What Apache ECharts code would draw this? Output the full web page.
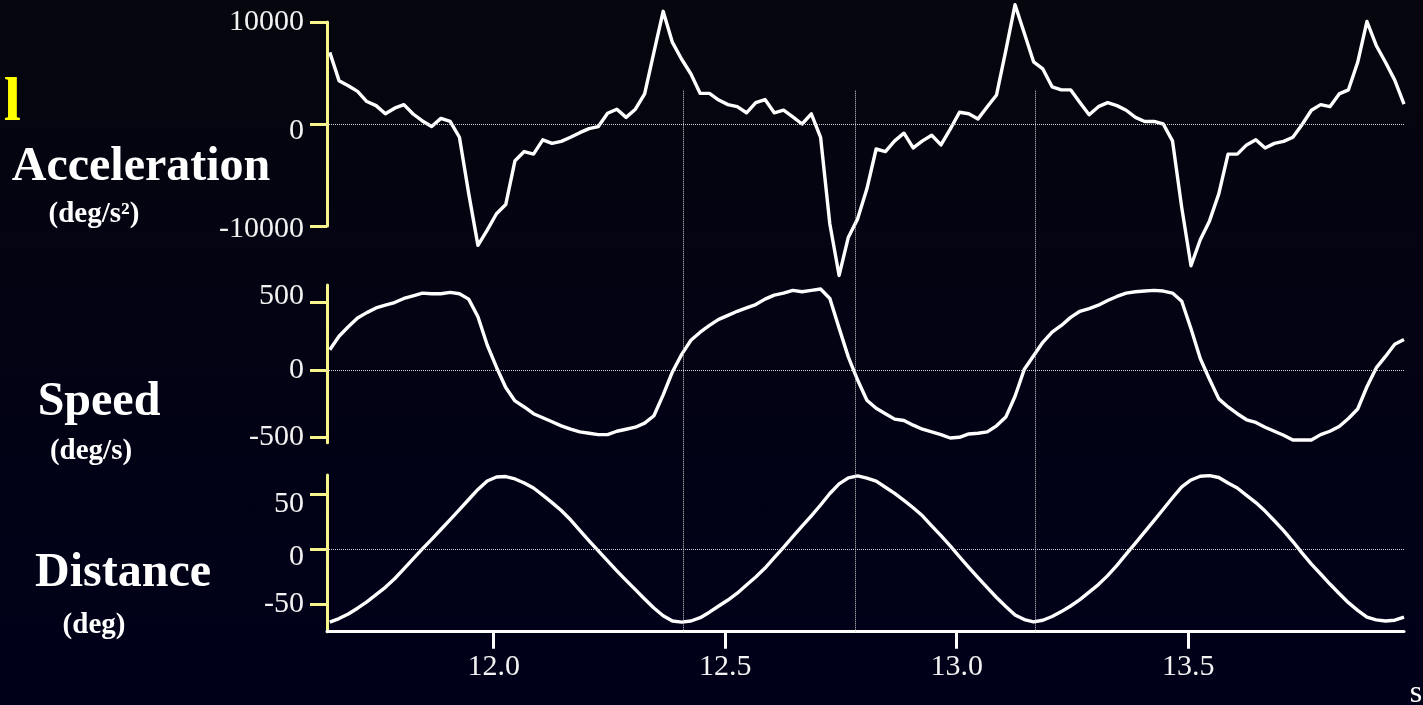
<!DOCTYPE html>
<html>
<head>
<meta charset="utf-8">
<script src="https://cdn.jsdelivr.net/npm/echarts@6/dist/echarts.min.js"></script>
<style>
  html, body { margin: 0; padding: 0; width: 1423px; height: 705px; overflow: hidden;
    background: linear-gradient(#06060e, #00001a); }
  #chart { width: 1423px; height: 705px; }
</style>
</head>
<body>
<div id="chart"></div>
<script>
// Sampling clock of the recording (seconds)
const SAMPLE_T0 = 11.646;
const SAMPLE_DT = 0.02;

// Angular acceleration, deg/s^2
const acceleration = [
  7020, 4250, 3750, 3200, 2200, 1800, 1000, 1550, 1900, 980,
  300, -250, 550, 250, -1300, -6800, -11900, -10400, -8800, -7900,
  -3600, -2700, -2950, -1550, -1900, -1700, -1300, -850, -450, -250,
  1050, 1450, 650, 1450, 2950, 7020, 11050, 8000, 6350, 4900,
  3000, 3000, 2350, 1900, 1700, 1100, 2100, 2400, 1100, 1350,
  700, 0, 1000, -1300, -9800, -14850, -11100, -9300, -6350, -2450,
  -2700, -1650, -900, -2350, -1650, -1100, -2050, -500, 1150, 1000,
  500, 1700, 2850, 7200, 11700, 8900, 6100, 5400, 3650, 3350,
  3350, 2100, 900, 1700, 2100, 1800, 1350, 650, 250, 250,
  0, -1650, -8200, -13900, -11350, -9500, -6850, -2950, -2950, -2050,
  -1550, -2350, -1900, -1700, -1300, -50, 1350, 1900, 1700, 2950,
  3350, 6050, 10050, 7700, 6050, 4300, 1950
];

// Angular speed, deg/s
const speed = [
  150, 250, 320, 385, 425, 460, 480, 500, 530, 550,
  570, 565, 565, 575, 565, 525, 395, 185, 20, -130,
  -230, -275, -325, -355, -385, -415, -440, -460, -470, -480,
  -480, -455, -440, -425, -395, -340, -185, -15, 115, 220,
  280, 330, 375, 405, 435, 460, 485, 525, 555, 570,
  590, 580, 590, 600, 530, 310, 95, -75, -225, -285,
  -325, -365, -375, -410, -440, -460, -480, -505, -500, -475,
  -470, -460, -415, -350, -195, 5, 105, 205, 280, 330,
  390, 435, 455, 480, 515, 545, 570, 580, 585, 590,
  585, 570, 510, 305, 85, -70, -215, -275, -325, -370,
  -390, -425, -455, -485, -520, -520, -520, -480, -455, -420,
  -360, -290, -125, 15, 100, 190, 225
];

// Angular distance, deg
const distance = [
  -66.3, -63.1, -59.0, -53.7, -47.9, -41.4, -34.8, -27.0, -18.0, -9.0,
  0, 8.7, 17.6, 26.6, 35.6, 44.8, 53.9, 61.6, 65.2, 65.6,
  63.4, 59.8, 55.2, 48.8, 42.0, 34.8, 26.4, 16.9, 7.4, -1.8,
  -10.8, -19.8, -28.5, -36.9, -45.4, -53.5, -60.5, -65.3, -66.3, -65.3,
  -62.3, -57.3, -51.7, -46.3, -40.1, -32.7, -25.5, -17.3, -7.9, 1.5,
  11.1, 20.6, 30.0, 39.8, 50.2, 58.9, 64.4, 66.2, 64.2, 61.4,
  55.9, 50.4, 44.0, 37.3, 30.0, 20.9, 12.1, 2.8, -7.1, -16.7,
  -26.0, -35.0, -44.0, -52.2, -59.9, -64.0, -66.1, -64.6, -61.2, -56.8,
  -51.7, -45.9, -39.1, -32.3, -24.2, -14.9, -4.7, 5.2, 15.5, 25.7,
  36.0, 46.4, 56.3, 62.5, 65.9, 66.4, 64.7, 59.7, 55.2, 48.6,
  42.0, 34.3, 25.5, 16.6, 6.7, -3.8, -13.8, -22.7, -31.8, -40.4,
  -48.7, -55.7, -61.8, -64.3, -65.3, -64.6, -61.8
];

// Axis ticks and reference instants (turning points of the movement)
const timeTicks = [12.0, 12.5, 13.0, 13.5];
const accTicks = [-10000, 0, 10000];
const speedTicks = [-500, 0, 500];
const distTicks = [-50, 0, 50];
const markerTimes = [12.407, 12.779, 13.168];

const times = acceleration.map((_, i) => +(SAMPLE_T0 + i * SAMPLE_DT).toFixed(3));
const pairs = arr => arr.map((v, i) => [times[i], v]);

const T_MIN = 11.64, T_MAX = 13.966;
const LEFT = 327, WIDTH = 1077;
const SERIF = '"Liberation Serif", "Times New Roman", serif';
const YELLOW = '#f7f48c';
const LABEL_COLOR = '#f2f2f2';
const DOT = '#d2d2d2';

const richStyle = (pad) => ({ fontFamily: SERIF, fontSize: 30, color: LABEL_COLOR, padding: pad });
const rich = {
  n: richStyle([0, 0, 0, 0]),
  d6: richStyle([6, 0, 0, 0]),
  d14: richStyle([14, 0, 0, 0]),
  d16: richStyle([16, 0, 0, 0]),
  d20: richStyle([20, 0, 0, 0]),
  u12: richStyle([0, 0, 12, 0])
};

function yAxisFor(gridIndex, min, max, ticks, nudge) {
  return {
    type: 'value', gridIndex, min, max,
    axisLine: { show: true, onZero: false, lineStyle: { color: YELLOW, width: 3 } },
    axisTick: { show: true, customValues: ticks, length: 17, lineStyle: { color: YELLOW, width: 3 } },
    axisLabel: {
      customValues: ticks, margin: 23, fontFamily: SERIF, fontSize: 30, color: LABEL_COLOR,
      formatter: v => `{${nudge[v] || 'n'}|${v}}`, rich
    },
    splitLine: { show: false }
  };
}

function xAxisFor(gridIndex, visible) {
  return {
    type: 'value', gridIndex, min: T_MIN, max: T_MAX, show: visible,
    axisLine: { show: true, onZero: false, lineStyle: { color: '#ffffff', width: 3 } },
    axisTick: { show: true, customValues: timeTicks, length: 17, lineStyle: { color: '#ffffff', width: 3 } },
    axisLabel: {
      customValues: timeTicks, margin: 20, fontFamily: SERIF, fontSize: 30, color: LABEL_COLOR,
      formatter: v => v.toFixed(1)
    },
    splitLine: { show: false }
  };
}

const zeroLine = {
  silent: true, symbol: 'none', label: { show: false },
  lineStyle: { color: DOT, width: 1, type: [1, 1] },
  data: [{ yAxis: 0 }]
};

function curve(idx, values) {
  return {
    type: 'line', xAxisIndex: idx, yAxisIndex: idx, data: pairs(values),
    showSymbol: false, clip: false, z: 3,
    lineStyle: { color: '#ffffff', width: 3.4, join: 'round' },
    markLine: zeroLine
  };
}

function label(text, x, y, size, opts = {}) {
  const font = `${opts.weight || 'bold'} ${size}px ${SERIF}`;
  return {
    type: 'text', x, y, z: 10,
    style: {
      text, font, fill: opts.color || '#ffffff',
      align: opts.align || 'center', verticalAlign: 'middle',
      textAlign: opts.align || 'center', textVerticalAlign: 'middle'
    }
  };
}

const chart = echarts.init(document.getElementById('chart'), null, { renderer: 'canvas' });
chart.setOption({
  backgroundColor: 'transparent',
  animation: false,
  grid: [
    { left: LEFT, width: WIDTH, top: 22, height: 204 },
    { left: LEFT, width: WIDTH, top: 285, height: 157.7 },
    { left: LEFT, width: WIDTH, top: 475, height: 156.7 },
    { left: LEFT, width: WIDTH, top: 90, height: 541.7 }
  ],
  xAxis: [xAxisFor(0, false), xAxisFor(1, false), xAxisFor(2, true), xAxisFor(3, false)],
  yAxis: [
    yAxisFor(0, -10000, 10000, accTicks, { 0: 'd14', '-10000': 'd6' }),
    yAxisFor(1, -540, 630, speedTicks, { 500: 'u12' }),
    yAxisFor(2, -75, 67, distTicks, { 50: 'd20', 0: 'd16' }),
    { type: 'value', gridIndex: 3, min: 0, max: 1, show: false }
  ],
  series: [
    {
      type: 'line', xAxisIndex: 3, yAxisIndex: 3, data: [[T_MIN, 0]],
      showSymbol: false, lineStyle: { opacity: 0 }, z: 1,
      markLine: {
        silent: true, symbol: 'none', label: { show: false },
        lineStyle: { color: DOT, width: 1, type: [1, 1] },
        data: markerTimes.map(t => ({ xAxis: t }))
      }
    },
    curve(0, acceleration),
    curve(1, speed),
    curve(2, distance)
  ],
  graphic: [
    label('l', 21, 104, 62, { color: '#ffff00', align: 'right' }),
    label('Acceleration', 141, 168, 48),
    label('(deg/s²)', 94, 215, 29),
    label('Speed', 99, 403, 48),
    label('(deg/s)', 91, 452, 29),
    label('Distance', 123, 574, 48),
    label('(deg)', 94, 626, 29),
    label('s', 1416, 694, 32, { weight: 'normal' })
  ]
});
</script>
</body>
</html>
